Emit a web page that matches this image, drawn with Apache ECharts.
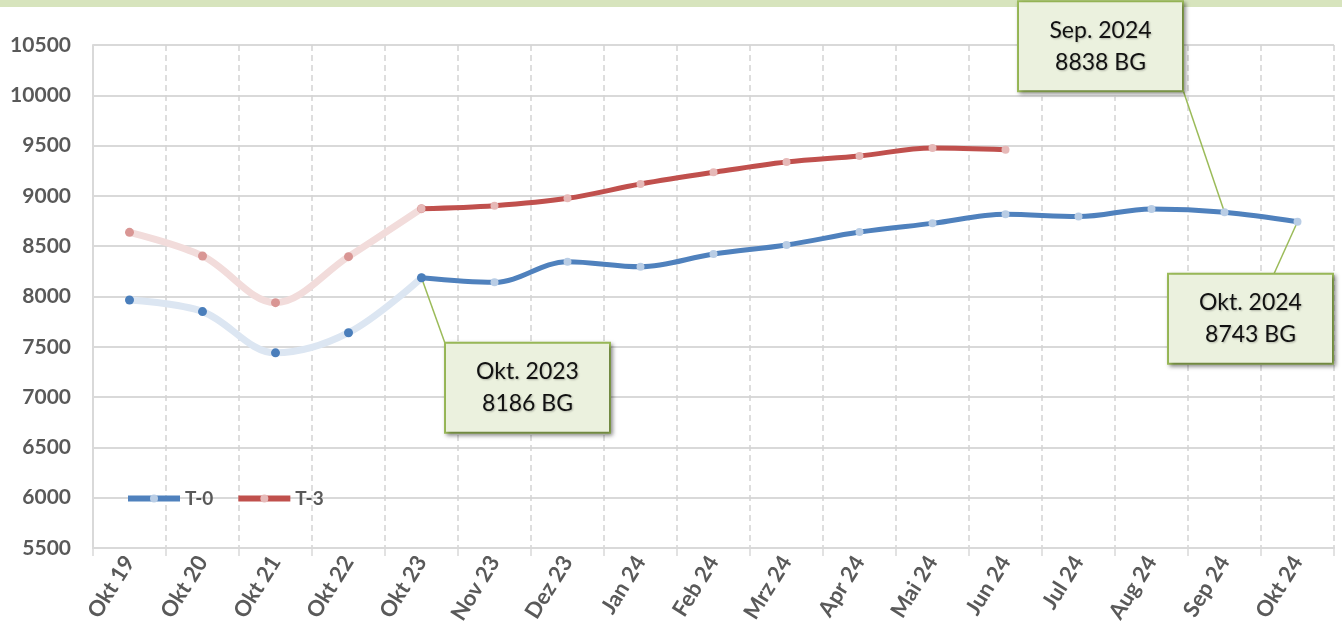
<!DOCTYPE html>
<html>
<head>
<meta charset="utf-8">
<script src="https://cdn.jsdelivr.net/npm/echarts@6/dist/echarts.min.js"></script>
<style>
html,body{margin:0;padding:0;background:#fff;}
#chart{width:1342px;height:631px;}
</style>
</head>
<body>
<div id="chart"></div>
<script>
// ---- data ----
var categories = ['Okt 19','Okt 20','Okt 21','Okt 22','Okt 23','Nov 23','Dez 23','Jan 24','Feb 24','Mrz 24','Apr 24','Mai 24','Jun 24','Jul 24','Aug 24','Sep 24','Okt 24'];
var t0Values = [7965, 7850, 7440, 7640, 8186, 8141, 8346, 8296, 8422, 8512, 8641, 8727, 8817, 8794, 8870, 8838, 8743];
var t3Values = [8638, 8403, 7939, 8396, 8873, 8903, 8976, 9118, 9234, 9337, 9397, 9476, 9459, null, null, null, null];
var yTicks = [5500, 10500, 500]; // min, max, interval
var splitIndex = 4; // yearly points up to here, monthly afterwards
var annotationTexts = {4: 'Okt. 2023\n8186 BG', 15: 'Sep. 2024\n8838 BG', 16: 'Okt. 2024\n8743 BG'};

// ---- styling / layout ----
var annotationShift = {4: [106, 110], 15: [-124, -166], 16: [-47, 97]};
var leaderEnds = {4: [446, 346], 15: [1183, 90], 16: [1273, 276]};
var font = 'Lato, "Open Sans", sans-serif';

function part(values, from, to) {
  return values.map(function (v, i) { return (i >= from && i <= to && v != null) ? v : '-'; });
}

var t0Dark = t0Values.map(function (v, i) {
  if (i < splitIndex) return '-';
  var item = {value: v};
  if (i === splitIndex) item.itemStyle = {color: '#4a7ebb'};
  if (annotationTexts[i]) {
    item.label = {
      show: true,
      position: 'inside',
      formatter: annotationTexts[i],
      fontFamily: font,
      fontSize: 23,
      lineHeight: 32,
      color: '#111',
      width: 101,
      align: 'center',
      padding: [12, 31],
      backgroundColor: '#ebf1de',
      borderColor: '#9bbb59',
      borderWidth: 2,
      shadowColor: 'rgba(0,0,0,0.35)',
      shadowBlur: 4,
      shadowOffsetX: 2,
      shadowOffsetY: 2,
      textShadowColor: 'rgba(0,0,0,0.25)',
      textShadowBlur: 2,
      textShadowOffsetX: 1,
      textShadowOffsetY: 1
    };
  }
  return item;
});

var leaderLines = Object.keys(annotationTexts).map(function (k) {
  var i = +k;
  return [
    {coord: [categories[i], t0Values[i]]},
    {x: leaderEnds[i][0], y: leaderEnds[i][1]}
  ];
});

var chart = echarts.init(document.getElementById('chart'), null, {renderer: 'canvas'});
chart.setOption({
  backgroundColor: '#ffffff',
  animation: false,
  graphic: [{
    type: 'rect', left: 0, top: 0, shape: {width: 1342, height: 7},
    style: {fill: '#d7e4bd'}, silent: true
  }],
  grid: {left: 93, right: 8, top: 45, bottom: 83, containLabel: false},
  legend: {
    data: ['T-0', 'T-3'],
    left: 120, top: 484,
    itemWidth: 52, itemHeight: 10, itemGap: 22,
    lineStyle: {width: 6},
    textStyle: {fontFamily: font, fontSize: 19, fontWeight: 'bold', color: '#595959'}
  },
  xAxis: {
    type: 'category',
    data: categories,
    boundaryGap: true,
    axisLine: {show: true, lineStyle: {color: '#d9d9d9', width: 2}},
    axisTick: {show: true, length: 8, lineStyle: {color: '#d9d9d9', width: 1.5}},
    splitLine: {show: true, lineStyle: {color: '#d4d4d4', width: 1.5, type: [6, 4]}},
    axisLabel: {
      rotate: 58, margin: 10, interval: 0,
      fontFamily: font, fontSize: 22, fontWeight: 'bold', color: '#595959'
    }
  },
  yAxis: {
    type: 'value',
    min: yTicks[0], max: yTicks[1], interval: yTicks[2],
    axisLine: {show: true, lineStyle: {color: '#d9d9d9', width: 2}},
    axisTick: {show: false},
    splitLine: {show: true, lineStyle: {color: '#d9d9d9', width: 2}},
    axisLabel: {
      margin: 22, fontFamily: font, fontSize: 21, fontWeight: 'bold', color: '#595959',
      formatter: function (v) { return String(v); }
    }
  },
  series: [
    {
      name: 'T-3 hist', type: 'line', smooth: 0.35,
      data: part(t3Values, 0, splitIndex),
      lineStyle: {color: '#f2dcdb', width: 7},
      symbol: 'circle', symbolSize: 9,
      itemStyle: {color: '#d99694'},
      z: 2
    },
    {
      name: 'T-0 hist', type: 'line', smooth: 0.35,
      data: part(t0Values, 0, splitIndex),
      lineStyle: {color: '#dce6f2', width: 7},
      symbol: 'circle', symbolSize: 9,
      itemStyle: {color: '#4a7ebb'},
      z: 2
    },
    {
      name: 'T-3', type: 'line', smooth: 0.35,
      data: part(t3Values, splitIndex, categories.length - 1),
      lineStyle: {color: '#c0504d', width: 5},
      symbol: 'circle', symbolSize: 8,
      itemStyle: {color: '#e6b9b8'},
      z: 3
    },
    {
      name: 'T-0', type: 'line', smooth: 0.35,
      data: t0Dark,
      lineStyle: {color: '#4f81bd', width: 5},
      symbol: 'circle', symbolSize: 8,
      itemStyle: {color: '#b9cde5'},
      labelLayout: function (params) {
        var s = annotationShift[params.dataIndex];
        return s ? {dx: s[0], dy: s[1], moveOverlap: false} : {};
      },
      markLine: {
        silent: true,
        symbol: ['none', 'none'],
        label: {show: false},
        lineStyle: {color: '#9bbb59', width: 1.5, type: 'solid'},
        data: leaderLines,
        z: 1
      },
      z: 4
    }
  ]
});
</script>
</body>
</html>
